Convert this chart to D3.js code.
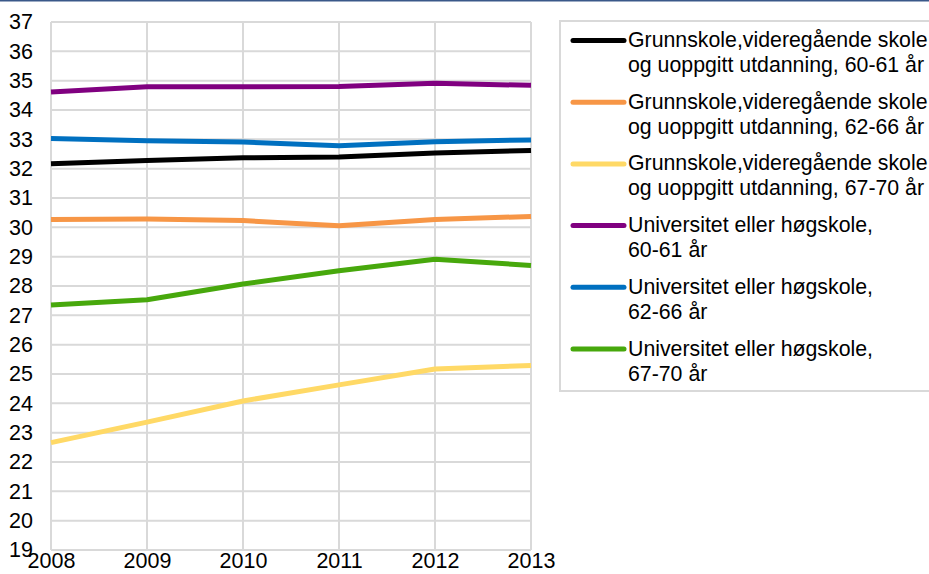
<!DOCTYPE html>
<html>
<head>
<meta charset="utf-8">
<script src="https://cdn.jsdelivr.net/npm/d3@7"></script>
<style>
	html, body { margin: 0; padding: 0; background: #fff; }
	svg { display: block; font-family: "Liberation Sans", Arial, sans-serif; }
</style>
</head>
<body>
<div id="chart"></div>
<script>
var years = [2008, 2009, 2010, 2011, 2012, 2013];
var yTicks = d3.range(19, 38);

var seriesNames = [
	["Grunnskole,videregående skole", "og uoppgitt utdanning, 60-61 år"],
	["Grunnskole,videregående skole", "og uoppgitt utdanning, 62-66 år"],
	["Grunnskole,videregående skole", "og uoppgitt utdanning, 67-70 år"],
	["Universitet eller høgskole,", "60-61 år"],
	["Universitet eller høgskole,", "62-66 år"],
	["Universitet eller høgskole,", "67-70 år"]
];
var seriesColors = ["#000000", "#f79646", "#ffd966", "#800080", "#0070c0", "#47a80c"];

var grunn6061 = [32.17, 32.28, 32.37, 32.40, 32.53, 32.62];
var grunn6266 = [30.27, 30.28, 30.23, 30.05, 30.27, 30.37];
var grunn6770 = [22.66, 23.36, 24.08, 24.63, 25.17, 25.29];
var uni6061 = [34.61, 34.79, 34.79, 34.80, 34.91, 34.84];
var uni6266 = [33.03, 32.95, 32.91, 32.78, 32.92, 32.98];
var uni6770 = [27.35, 27.53, 28.07, 28.52, 28.91, 28.70];

var seriesValues = [grunn6061, grunn6266, grunn6770, uni6061, uni6266, uni6770];

var W = 929, H = 574;
var svg = d3.select("#chart").append("svg")
	.attr("width", W)
	.attr("height", H);

// thin frame line along the top edge
svg.append("rect")
	.attr("x", 0).attr("y", 0)
	.attr("width", W).attr("height", 1.5)
	.style("fill", "#3a5889");

var x = d3.scalePoint()
	.domain(years)
	.range([51, 531]);
var y = d3.scaleLinear()
	.domain([19, 37])
	.range([550, 22]);

var grid = svg.append("g").attr("class", "grid");
grid.selectAll("line.h")
	.data(yTicks)
	.enter().append("line")
	.attr("class", "h")
	.attr("x1", 51).attr("x2", 531)
	.attr("y1", function(d) { return y(d); })
	.attr("y2", function(d) { return y(d); })
	.style("stroke", "#d9d9d9")
	.style("stroke-width", 2);
grid.selectAll("line.v")
	.data(years)
	.enter().append("line")
	.attr("class", "v")
	.attr("y1", 22).attr("y2", 550)
	.attr("x1", function(d) { return x(d); })
	.attr("x2", function(d) { return x(d); })
	.style("stroke", "#d9d9d9")
	.style("stroke-width", 2);

var yAxis = svg.append("g")
	.attr("transform", "translate(51,0)")
	.call(d3.axisLeft(y).tickValues(yTicks).tickSize(0).tickPadding(18).tickFormat(d3.format("d")));
yAxis.select(".domain").remove();
yAxis.selectAll("text")
	.style("font-size", "21.5px")
	.style("fill", "#000")
	.style("font-family", "Liberation Sans, Arial, sans-serif");

var xAxis = svg.append("g")
	.attr("transform", "translate(0,550)")
	.call(d3.axisBottom(x).tickSize(0).tickPadding(3).tickFormat(d3.format("d")));
xAxis.select(".domain").remove();
xAxis.selectAll("text")
	.style("font-size", "21.5px")
	.style("fill", "#000")
	.style("font-family", "Liberation Sans, Arial, sans-serif");

var line = d3.line()
	.x(function(d, i) { return x(years[i]); })
	.y(function(d) { return y(d); });

// draw in reverse so the first series sits on top, like the original
var order = [2, 1, 5, 4, 0, 3];
order.forEach(function(k) {
	svg.append("path")
		.datum(seriesValues[k])
		.attr("d", line)
		.style("fill", "none")
		.style("stroke", seriesColors[k])
		.style("stroke-width", 5)
		.style("stroke-linejoin", "round");
});

// legend
var legend = svg.append("g").attr("class", "legend");
legend.append("rect")
	.attr("x", 560).attr("y", 21)
	.attr("width", 380).attr("height", 370)
	.style("fill", "#fff")
	.style("stroke", "#d9d9d9")
	.style("stroke-width", 2);

var item = legend.selectAll("g.item")
	.data(seriesNames)
	.enter().append("g")
	.attr("class", "item")
	.attr("transform", function(d, i) { return "translate(0," + (40.5 + i * 61.7) + ")"; });
item.append("line")
	.attr("x1", 573).attr("x2", 624)
	.attr("y1", 0).attr("y2", 0)
	.style("stroke", function(d, i) { return seriesColors[i]; })
	.style("stroke-width", 5)
	.style("stroke-linecap", "round");
item.append("text")
	.attr("x", 628)
	.attr("y", 6.5)
	.style("font-size", "21.3px")
	.text(function(d) { return d[0]; });
item.append("text")
	.attr("x", 628)
	.attr("y", 31.5)
	.style("font-size", "21.3px")
	.text(function(d) { return d[1]; });
</script>
</body>
</html>
